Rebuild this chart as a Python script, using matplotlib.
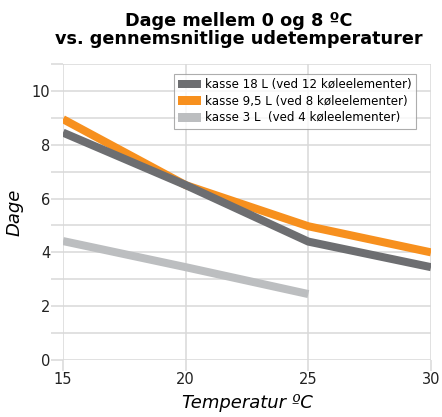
import matplotlib
matplotlib.use("Agg")
import matplotlib.pyplot as plt
from matplotlib.patches import Patch

temps = [15, 20, 25, 30]
kasse18 = [8.45, 6.5, 4.4, 3.45]
kasse95 = [8.95, 6.5, 4.97, 4.0]
temps3 = [15, 20, 25]
kasse3 = [4.42, 3.45, 2.45]
labels = ["kasse 18 L (ved 12 køleelementer)",
          "kasse 9,5 L (ved 8 køleelementer)",
          "kasse 3 L  (ved 4 køleelementer)"]
colors = ["#6d6e71", "#f7901e", "#bcbec0"]

plt.rcParams['font.family'] = ['DejaVu Sans']
fig = plt.figure(figsize=(4.42, 4.17), dpi=100)
ax = fig.add_axes([63/442, 1-360/417, (431-63)/442, (360-64)/417])

gridc = "#d9d9d9"
lw = 5.8
ax.plot(temps, kasse18, color=colors[0], lw=lw, solid_capstyle='butt', solid_joinstyle='round', zorder=3)
ax.plot(temps, kasse95, color=colors[1], lw=lw, solid_capstyle='butt', solid_joinstyle='round', zorder=2)
ax.plot(temps3, kasse3, color=colors[2], lw=lw, solid_capstyle='butt', solid_joinstyle='round', zorder=2)

ax.set_xlim(15, 30)
ax.set_ylim(0, 11)
ax.set_xticks([15, 20, 25, 30])
ax.set_yticks([0, 2, 4, 6, 8, 10])
ax.set_yticks(range(0, 12), minor=True)
ax.grid(True, which='both', color=gridc, lw=1.1)
ax.set_axisbelow(True)
for s in ax.spines.values():
    s.set_visible(False)
ax.tick_params(axis='both', which='both', color=gridc, width=1.1, labelsize=10.5, labelcolor='#222222')
ax.tick_params(axis='y', which='both', length=9, pad=0)
ax.tick_params(axis='x', which='major', length=8, pad=1)

ax.set_xlabel("Temperatur ºC", fontsize=13, style='italic', labelpad=5)
ax.set_ylabel("Dage", fontsize=13, style='italic', labelpad=6)
fig.text(0.54, 1-30/417, "Dage mellem 0 og 8 ºC\nvs. gennemsnitlige udetemperaturer",
         ha='center', va='center', fontsize=12.7, fontweight='bold', linespacing=0.98)

handles = [Patch(facecolor=c, edgecolor='none') for c in colors]
leg = ax.legend(handles, labels, loc='upper right', bbox_to_anchor=(416/442, 1-74/417),
                bbox_transform=fig.transFigure, fontsize=8.6, frameon=True, fancybox=False,
                edgecolor='#999999', handlelength=1.9, handleheight=0.75, handletextpad=0.35,
                labelspacing=0.3, borderpad=0.35, borderaxespad=0)
leg.get_frame().set_linewidth(0.8)

fig.savefig("out.png", dpi=100)
